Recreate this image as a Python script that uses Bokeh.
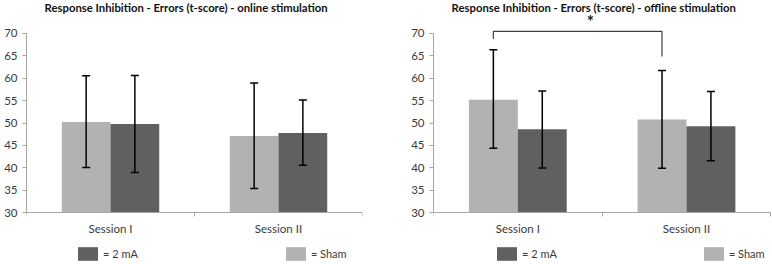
from bokeh.plotting import figure
from bokeh.models import (ColumnDataSource, FixedTicker, Whisker, TeeHead, Legend, LegendItem)
from bokeh.layouts import row
from bokeh.embed import file_html
from bokeh.resources import INLINE
from bokeh.core.properties import value

sessions = ["Session I", "Session II"]
groups = ["Sham", "2 mA"]

online_sham = [50.2, 47.1]
online_sham_lo = [40.1, 35.4]
online_sham_hi = [60.5, 58.9]
online_2ma = [49.8, 47.8]
online_2ma_lo = [39.0, 40.6]
online_2ma_hi = [60.6, 55.1]

offline_sham = [55.2, 50.8]
offline_sham_lo = [44.4, 39.9]
offline_sham_hi = [66.3, 61.7]
offline_2ma = [48.6, 49.3]
offline_2ma_lo = [40.0, 41.6]
offline_2ma_hi = [57.1, 57.0]

y_ticks = [30, 35, 40, 45, 50, 55, 60, 65, 70]

# significance bracket (offline): Sham Session I vs Sham Session II
bracket_y = [68.7, 70.4, 70.4, 64.8]
star_y = 72.5

titles = ["Response Inhibition - Errors (t-score) - online stimulation",
          "Response Inhibition - Errors (t-score) - offline stimulation"]

SHAM = "#b2b2b2"
MA = "#606060"
AXIS = "#a6a6a6"
TXT = "#3a3a3a"
FONT = "Lato"

BAR_W = 0.29
OFF = 0.145
Y_RANGE = (18.49, 77.28)


def make_panel(title, sham, sham_lo, sham_hi, ma, ma_lo, ma_hi, border_left, frame_w,
               border_right, x_end, legend_x, legend_spacing, bracket=False):
    p = figure(width=border_left + frame_w + border_right, height=264,
               frame_width=frame_w, frame_height=264,
               x_range=(0, x_end), y_range=Y_RANGE, output_backend="svg",
               toolbar_location=None, min_border_left=border_left, min_border_right=border_right,
               min_border_top=0, min_border_bottom=0)
    p.outline_line_color = None
    p.xgrid.visible = False
    p.ygrid.visible = False
    p.background_fill_color = "white"
    p.border_fill_color = "white"

    idx = list(range(len(sessions)))
    xs_sham = [i + 0.5 - OFF for i in idx]
    xs_ma = [i + 0.5 + OFF for i in idx]
    src_sham = ColumnDataSource(dict(x=xs_sham, top=sham, lo=sham_lo, hi=sham_hi))
    src_ma = ColumnDataSource(dict(x=xs_ma, top=ma, lo=ma_lo, hi=ma_hi))

    r_sham = p.vbar(x="x", top="top", bottom=30, width=BAR_W, source=src_sham,
                    fill_color=SHAM, line_color=None)
    r_ma = p.vbar(x="x", top="top", bottom=30, width=BAR_W, source=src_ma,
                  fill_color=MA, line_color=None)

    for src in (src_sham, src_ma):
        w = Whisker(base="x", upper="hi", lower="lo", source=src, line_color="black",
                    line_width=1.5, level="overlay",
                    upper_head=TeeHead(size=8, line_color="black", line_width=1.5),
                    lower_head=TeeHead(size=8, line_color="black", line_width=1.5))
        p.add_layout(w)

    # axes
    p.yaxis.ticker = FixedTicker(ticks=y_ticks)
    p.yaxis.bounds = (30, 70)
    p.yaxis.axis_line_color = AXIS
    p.yaxis.major_tick_line_color = AXIS
    p.yaxis.major_tick_out = 4
    p.yaxis.major_tick_in = 0
    p.yaxis.minor_tick_line_color = None
    p.yaxis.major_label_standoff = 5
    p.yaxis.major_label_text_font = FONT
    p.yaxis.major_label_text_font_size = "11.5px"
    p.yaxis.major_label_text_color = TXT

    p.xaxis.fixed_location = 30
    p.xaxis.bounds = (0, len(sessions))
    p.xaxis.ticker = FixedTicker(ticks=[i + 0.5 for i in idx], minor_ticks=[0, 1, 2])
    p.xaxis.major_label_overrides = {i + 0.5: s for i, s in zip(idx, sessions)}
    p.xaxis.axis_line_color = AXIS
    p.xaxis.major_tick_line_color = None
    p.xaxis.major_tick_out = 0
    p.xaxis.major_tick_in = 0
    p.xaxis.minor_tick_line_color = AXIS
    p.xaxis.minor_tick_out = 4
    p.xaxis.minor_tick_in = 0
    p.xaxis.major_label_standoff = 5
    p.xaxis.major_label_text_font = FONT
    p.xaxis.major_label_text_font_size = "11.5px"
    p.xaxis.major_label_text_color = TXT

    # title as text
    p.text(x=[0.95], y=[75.8], text=[title], text_font=value(FONT), text_font_size="11.3px",
           text_font_style="bold", text_color="#111111", text_align="center",
           text_baseline="middle")

    if bracket:
        bx = [xs_sham[0], xs_sham[0], xs_sham[1], xs_sham[1]]
        p.line(x=bx, y=bracket_y, line_color="#404040", line_width=1.2)
        p.text(x=[0.93], y=[star_y], text=["*"], text_font=value(FONT), text_font_size="17px",
               text_font_style="bold", text_color="#222222", text_align="center",
               text_baseline="middle")

    legend = Legend(items=[LegendItem(label="= 2 mA", renderers=[r_ma]),
                           LegendItem(label="= Sham", renderers=[r_sham])],
                    orientation="horizontal", location=(legend_x, 2), margin=0, padding=1,
                    spacing=legend_spacing, glyph_width=25, glyph_height=17, label_standoff=3,
                    label_height=17,
                    label_text_font=FONT, label_text_font_size="11px", label_text_color=TXT,
                    border_line_color=None, background_fill_alpha=0)
    p.add_layout(legend, "center")
    return p


p1 = make_panel(titles[0], online_sham, online_sham_lo, online_sham_hi,
                online_2ma, online_2ma_lo, online_2ma_hi, 26, 336, 24, 2.0,
                49, 145)
p2 = make_panel(titles[1], offline_sham, offline_sham_lo, offline_sham_hi,
                offline_2ma, offline_2ma_lo, offline_2ma_hi, 47, 339, 0, 2.0 * 339 / 337.3,
                61, 144, bracket=True)

layout = row(p1, p2, spacing=0)
open("out.html", "w").write(file_html(layout, INLINE))
